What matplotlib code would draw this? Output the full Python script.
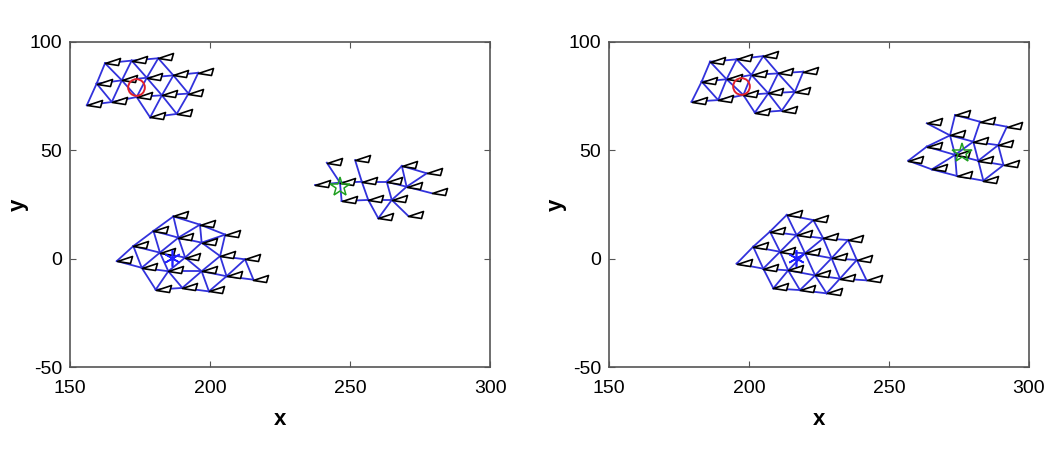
import numpy as np
import matplotlib.pyplot as plt
from matplotlib.path import Path

plt.rcParams['font.family'] = ['Liberation Sans', 'DejaVu Sans']
plt.rcParams['axes.unicode_minus'] = False

# --- agent positions, left panel ---
L1_x = [162.5, 172.0, 181.5, 159.5, 168.5, 177.4, 186.9, 195.8,
        156.0, 164.9, 173.8, 182.8, 192.3, 178.6, 188.1]
L1_y = [90.2, 91.4, 92.5, 80.8, 82.3, 83.5, 84.6, 85.8,
        70.8, 72.3, 74.6, 75.4, 76.2, 65.2, 66.8]

L2_x = [237.5, 241.7, 246.4, 251.8, 254.2, 247.0, 256.5, 260.1,
        263.1, 264.9, 268.5, 270.2, 277.4, 279.2, 270.8]
L2_y = [34.0, 44.3, 35.1, 45.5, 35.5, 26.6, 27.1, 18.6,
        35.5, 27.1, 42.8, 33.2, 39.4, 30.2, 19.7]
L2_edges = [(0, 2), (1, 2), (2, 4), (2, 5), (3, 4), (4, 8), (4, 6), (5, 6),
            (6, 9), (6, 7), (8, 11), (8, 9), (8, 10), (10, 11), (10, 12),
            (11, 12), (11, 13), (9, 7), (9, 14), (11, 9)]

L3_x = [186.9, 196.4, 179.8, 188.7, 197.0, 205.4, 172.6, 182.1, 191.1, 203.6,
        212.5, 166.7, 175.6, 185.1, 197.0, 205.9, 215.5, 180.6, 190.1, 199.6]
L3_y = [19.5, 15.7, 12.8, 9.7, 7.4, 11.1, 5.8, 2.8, 0.5, 1.2,
        -0.3, -1.1, -4.2, -5.8, -5.8, -8.1, -9.7, -14.3, -13.5, -15.1]

# --- agent positions, right panel ---
R1_x = [186.1, 195.6, 205.1, 183.1, 192.0, 200.9, 210.4, 219.4,
        179.5, 189.0, 198.0, 206.9, 216.4, 202.1, 211.7]
R1_y = [90.9, 92.0, 93.5, 81.7, 82.8, 84.8, 85.5, 86.3,
        72.4, 73.2, 75.5, 76.3, 77.0, 67.4, 68.3]

R2_x = [263.5, 273.6, 282.5, 292.1, 271.8, 280.1, 289.0, 263.5,
        273.6, 281.9, 290.9, 256.9, 265.3, 274.2, 283.7]
R2_y = [62.5, 66.3, 63.2, 60.9, 56.9, 54.0, 52.4, 51.7,
        47.9, 45.2, 43.2, 45.2, 41.2, 38.2, 36.0]
R2_edges = [(0, 4), (1, 4), (1, 2), (2, 5), (2, 3), (3, 6), (4, 5), (5, 6),
            (4, 7), (7, 11), (7, 8), (4, 8), (5, 8), (5, 9), (6, 9), (6, 10),
            (11, 12), (12, 8), (8, 9), (9, 10), (12, 13), (13, 14), (13, 8),
            (9, 14), (14, 10)]

R3_x = [213.5, 223.0, 207.5, 217.0, 226.5, 235.4, 201.5, 211.1, 220.0, 229.5,
        238.5, 195.6, 205.1, 214.0, 223.6, 232.5, 242.0, 208.7, 218.2, 227.7]
R3_y = [20.2, 17.8, 12.5, 10.9, 9.4, 8.6, 5.5, 3.2, 2.5, 0.2,
        -0.6, -2.3, -4.6, -5.4, -7.7, -9.2, -10.0, -13.7, -14.5, -16.0]

# group centres
circle_xy = [(173.6, 79.4), (197.1, 79.8)]
star_xy = [(246.4, 33.2), (276.0, 48.6)]
aster_xy = [(186.3, 0.2), (216.7, 0.2)]

R_NEIGH = 12.5

agent = Path([(0, 0), (15, 5), (13, -2), (0, 0)],
             [Path.MOVETO, Path.LINETO, Path.LINETO, Path.CLOSEPOLY])


def near_edges(x, y):
    e = []
    for i in range(len(x)):
        for j in range(i + 1, len(x)):
            if np.hypot(x[i] - x[j], y[i] - y[j]) < R_NEIGH:
                e.append((i, j))
    return e


def draw_group(ax, x, y, edges=None):
    if edges is None:
        edges = near_edges(x, y)
    for i, j in edges:
        ax.plot([x[i], x[j]], [y[i], y[j]], color='#3232dc', lw=1.3, zorder=2)
    ax.plot(x, y, ls='none', marker=agent, ms=21.6, mfc='white',
            mec='black', mew=1.2, zorder=3)


fig = plt.figure(figsize=(10.63, 4.55), dpi=100)
ax1 = fig.add_axes([0.0659, 0.1934, 0.3951, 0.7143])
ax2 = fig.add_axes([0.5729, 0.1934, 0.3951, 0.7143])

draw_group(ax1, L1_x, L1_y)
draw_group(ax1, L2_x, L2_y, L2_edges)
draw_group(ax1, L3_x, L3_y)
draw_group(ax2, R1_x, R1_y)
draw_group(ax2, R2_x, R2_y, R2_edges)
draw_group(ax2, R3_x, R3_y)

for k, ax in enumerate([ax1, ax2]):
    ax.plot(*circle_xy[k], marker='o', ms=12, mfc='none', mec='#e0202a', mew=1.4, zorder=4)
    ax.plot(*star_xy[k], marker='*', ms=15, mfc='none', mec='#20a020', mew=1.1, zorder=4)
    ax.plot(*aster_xy[k], marker=(6, 2, 0), ms=12, color='#2020ff', mew=1.2, zorder=4)
    ax.set_xlim(150, 300)
    ax.set_ylim(-50, 100)
    ax.set_xticks([150, 200, 250, 300])
    ax.set_yticks([-50, 0, 50, 100])
    ax.tick_params(direction='in', length=4, top=True, right=True,
                   labelsize=14, color='#555555')
    ax.tick_params(axis='x', pad=9)
    ax.tick_params(axis='y', pad=5.5)
    for s in ax.spines.values():
        s.set_color('#555555')
        s.set_linewidth(1.2)
    ax.set_xlabel('x', fontsize=16, fontweight='bold', labelpad=9)
    ax.set_ylabel('y', fontsize=16, fontweight='bold', labelpad=1)

fig.savefig('out.png', dpi=100)
